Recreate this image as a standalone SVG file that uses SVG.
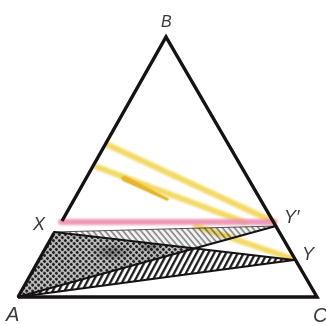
<svg xmlns="http://www.w3.org/2000/svg" width="326" height="325" viewBox="0 0 326 325">
<style>
.lbl{font-family:"Liberation Sans",Arial,sans-serif;font-style:italic;fill:#3a3a3a}
.edge{fill:none;stroke:#161212;stroke-width:3.4;stroke-linejoin:miter;stroke-linecap:butt}
.seg{fill:none;stroke:#171212;stroke-linecap:round}
.beam{fill:none;stroke:#f0d040;stroke-width:6;stroke-linecap:round;opacity:0.8;mix-blend-mode:multiply;filter:url(#soft)}
</style>
<defs>
<filter id="soft" filterUnits="userSpaceOnUse" x="0" y="0" width="326" height="325">
<feGaussianBlur stdDeviation="1.3"/>
</filter>
<pattern id="dots" width="4.2" height="4.2" patternUnits="userSpaceOnUse" patternTransform="rotate(45)">
<rect width="4.2" height="4.2" fill="#c2c2c2"/>
<circle cx="2.1" cy="2.1" r="1.55" fill="#1e1e1e"/>
</pattern>
<pattern id="hatchL" width="5.2" height="10" patternUnits="userSpaceOnUse" patternTransform="rotate(28)">
<rect width="5.2" height="10" fill="#ffffff"/>
<line x1="1.2" y1="0" x2="1.2" y2="10" stroke="#111" stroke-width="2.2"/>
</pattern>
<pattern id="hatchU" width="4.6" height="10" patternUnits="userSpaceOnUse" patternTransform="rotate(-40)">
<rect width="4.6" height="10" fill="#f3f3f3"/>
<line x1="1" y1="0" x2="1" y2="10" stroke="#6a6a6a" stroke-width="1.3"/>
</pattern>
<radialGradient id="smudge" cx="0.5" cy="0.5" r="0.5">
<stop offset="0" stop-color="#000" stop-opacity="0.35"/>
<stop offset="1" stop-color="#000" stop-opacity="0"/>
</radialGradient>
</defs>
<rect width="326" height="325" fill="#ffffff"/>

<g id="shading">
<polygon id="dotted-AXZ" points="18,297 54,232 194.6,248.4" fill="url(#dots)"/>
<ellipse cx="112" cy="252" rx="22" ry="9" fill="url(#smudge)"/>
<ellipse cx="150" cy="247" rx="14" ry="6" fill="url(#smudge)"/>
<polygon id="hatch-XY'Z" points="54,232 276,226 194.6,248.4" fill="url(#hatchU)"/>
<polygon id="hatch-AZY" points="18,297 194.6,248.4 294,260" fill="url(#hatchL)"/>
</g>

<g id="beams">
<path class="beam" d="M108,145 L274,222"/>
<path class="beam" d="M97,167 L244,222"/>
<path class="beam" d="M196,226 L290,258"/>
<polygon points="121,177.5 125,176 169,199 167,200.5 123,180.5" fill="#e8b42c" filter="url(#soft)"/>
<polygon points="121,177.5 125,176 169,199 167,200.5 123,180.5" fill="#e8b42c"/>
<path d="M61,222 L274,222" stroke="#ee8fb2" stroke-width="6" stroke-linecap="round" fill="none" opacity="0.9" filter="url(#soft)"/>
</g>

<g id="connectors">
<path class="seg" d="M54,232 L276,226" stroke-width="1.1" opacity="0.7"/>
<path class="seg" d="M18,297 L276,226" stroke="#2e1616" stroke-width="2.2"/>
<path class="seg" d="M54,232 L294,260" stroke-width="2"/>
<path class="seg" d="M18,297 L294,260" stroke-width="1.8"/>
</g>

<g id="triangle">
<path class="edge" d="M62,221 L166,37 L317,297 L18,297"/>
<path class="edge" d="M18,297 L54,233" stroke-width="4"/>
</g>

<g id="labels">
<text class="lbl" x="161" y="27" font-size="16">B</text>
<text class="lbl" x="6" y="321" font-size="20">A</text>
<text class="lbl" x="313" y="322" font-size="20">C</text>
<text class="lbl" x="33" y="230" font-size="18">X</text>
<text class="lbl" x="284" y="223" font-size="18">Y′</text>
<text class="lbl" x="302" y="260" font-size="18">Y</text>
</g>
</svg>
